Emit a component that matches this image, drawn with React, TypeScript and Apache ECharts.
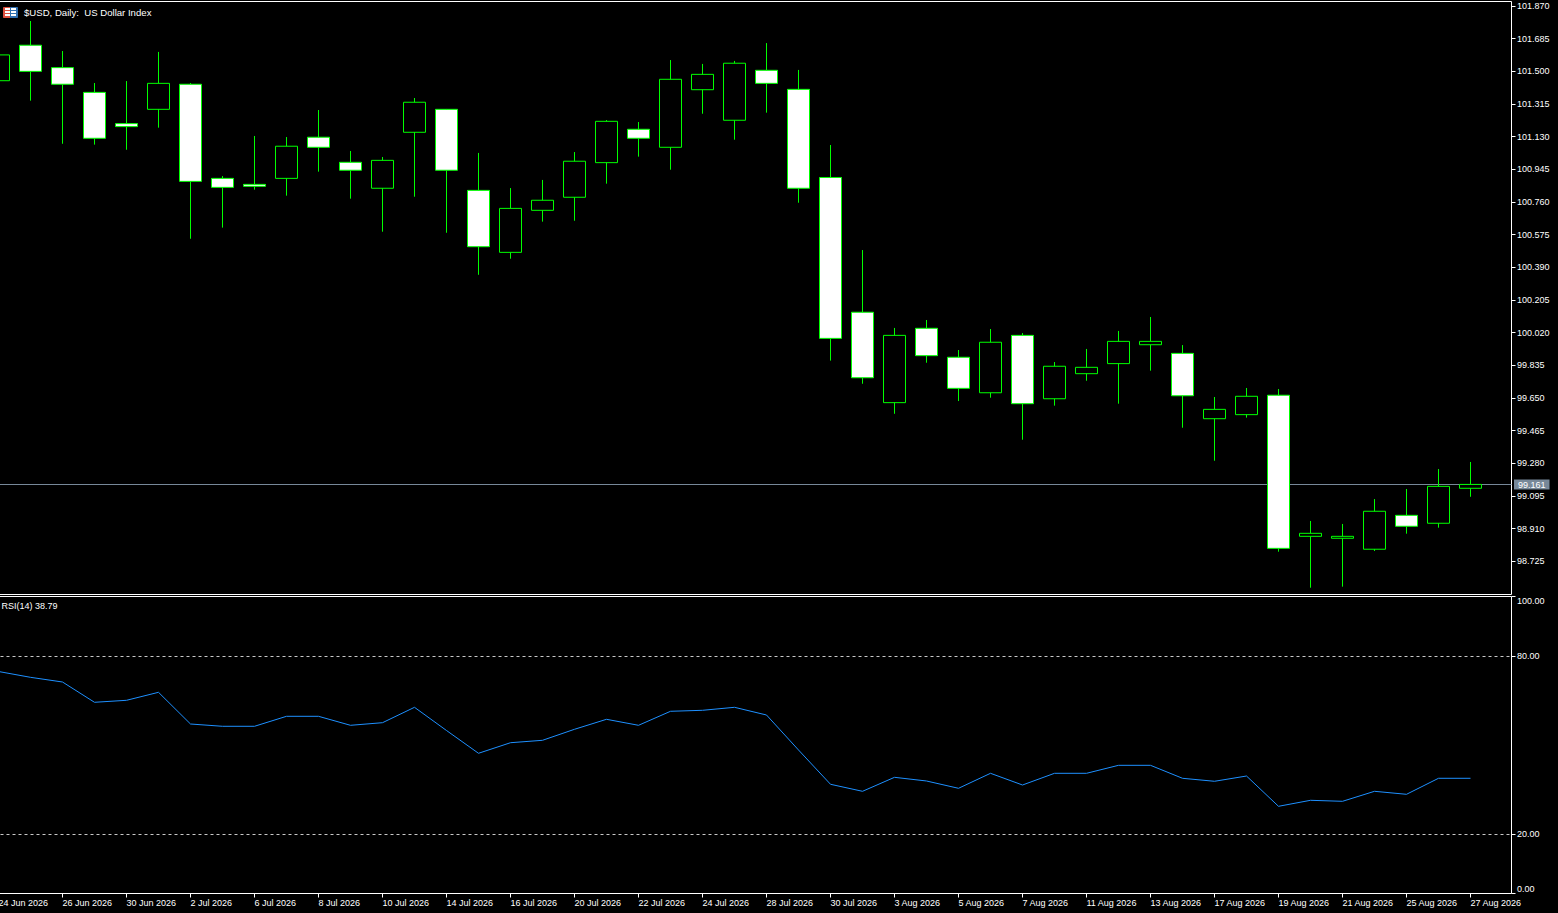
import React, { useEffect, useRef } from "react";
import * as echarts from "echarts";

const dates = [
  "24 Jun 2026","25 Jun 2026","26 Jun 2026","29 Jun 2026","30 Jun 2026",
  "1 Jul 2026","2 Jul 2026","3 Jul 2026","6 Jul 2026","7 Jul 2026","8 Jul 2026","9 Jul 2026","10 Jul 2026",
  "13 Jul 2026","14 Jul 2026","15 Jul 2026","16 Jul 2026","17 Jul 2026","20 Jul 2026","21 Jul 2026","22 Jul 2026",
  "23 Jul 2026","24 Jul 2026","27 Jul 2026","28 Jul 2026","29 Jul 2026","30 Jul 2026","31 Jul 2026",
  "3 Aug 2026","4 Aug 2026","5 Aug 2026","6 Aug 2026","7 Aug 2026","10 Aug 2026","11 Aug 2026","12 Aug 2026",
  "13 Aug 2026","14 Aug 2026","17 Aug 2026","18 Aug 2026","19 Aug 2026","20 Aug 2026","21 Aug 2026",
  "24 Aug 2026","25 Aug 2026","26 Aug 2026","27 Aug 2026",
];
const opens = [
  101.447,101.648,101.521,101.381,101.204,101.285,101.427,100.894,100.860,100.894,101.127,100.985,100.838,
  101.155,101.285,100.826,100.475,100.713,100.787,100.983,101.172,101.070,101.396,101.223,101.506,101.398,
  100.899,100.136,99.624,100.045,99.881,99.680,100.005,99.646,99.788,99.845,99.952,99.903,99.533,99.556,
  99.666,98.867,98.856,98.794,98.986,98.941,99.139,
];
const closes = [
  101.593,101.500,101.427,101.121,101.187,101.432,100.877,100.843,100.849,101.076,101.070,100.940,100.996,
  101.325,100.940,100.507,100.724,100.770,100.991,101.217,101.121,101.455,101.483,101.546,101.432,100.838,
  99.988,99.765,100.005,99.890,99.705,99.966,99.618,99.830,99.824,99.971,99.971,99.663,99.586,99.660,
  98.799,98.884,98.867,99.009,98.924,99.150,99.161,
];
const lows = [
  101.423,101.334,101.090,101.085,101.056,101.181,100.552,100.615,100.830,100.796,100.932,100.779,100.592,
  100.790,100.586,100.348,100.439,100.649,100.654,100.864,101.017,100.943,101.260,101.113,101.266,100.756,
  99.862,99.731,99.561,99.850,99.633,99.652,99.414,99.607,99.748,99.618,99.805,99.482,99.295,99.539,
  98.780,98.576,98.582,98.784,98.882,98.916,99.091,
];
const highs = [
  101.621,101.785,101.615,101.434,101.445,101.610,101.434,100.907,101.134,101.128,101.281,101.049,101.015,
  101.349,101.287,101.038,100.839,100.885,101.043,101.224,101.213,101.564,101.542,101.559,101.660,101.508,
  101.083,100.488,100.047,100.092,99.922,100.041,100.018,99.854,99.928,100.030,100.109,99.950,99.656,99.707,
  99.701,98.954,98.937,99.078,99.135,99.248,99.288,
];
const rsiValues = [
  74.75,72.79,71.21,64.38,65.05,67.74,57.07,56.30,56.30,59.66,59.66,56.63,57.51,62.69,54.88,47.21,50.77,
  51.58,55.29,58.65,56.63,61.35,61.68,62.69,60.10,48.32,36.77,34.41,39.12,37.88,35.42,40.47,36.53,40.47,
  40.47,43.16,43.16,38.79,37.78,39.56,29.36,31.38,31.04,34.41,33.40,38.79,38.79,
];
const priceTicks = [
  98.725,98.91,99.095,99.28,99.465,99.65,99.835,100.02,100.205,100.39,100.575,100.76,100.945,101.13,
  101.315,101.5,101.685,101.87,
];
const rsiTicks = [0, 20, 80, 100];
const rsiLevels = [80, 20];
const lastPrice = 99.161;
const titleText = "$USD, Daily:  US Dollar Index";
const rsiText = "RSI(14) 38.79";

const FONT = "'Liberation Sans'";
const FONT_SIZE = 9;
const TITLE_SIZE = 9.6;
const GREEN = "#00ff00";
const ICON_RED = "#dc4f3e";
const ICON_BLUE = "#2f6fb0";

export default function App() {
  const ref = useRef<HTMLDivElement>(null);
  useEffect(() => {
    const chart = echarts.init(ref.current!, undefined, { renderer: "svg" });
    const dateTicks = dates.map((_, i) => i).filter((i) => i % 2 === 0);
    const candles = dates.map((_, i) => [i, opens[i], closes[i], lows[i], highs[i]]);
    const rsiData = rsiValues.map((v, i) => [i, v]);
    const plotLeft = -17.5;
    const plotWidth = 1529;
    const xMin = -0.5;
    const xMax = xMin + plotWidth / 32;
    const gridStyle = {
      show: true, borderColor: "#ffffff", borderWidth: 1, backgroundColor: "#000000",
      outerBoundsMode: "none", containLabel: false,
    };
    const hiddenLine = { show: false, onZero: false };
    const iconStripe = (x: number, y: number) => ({
      type: "rect", shape: { x, y, width: 5, height: 2 }, style: { fill: "#ffffff" },
    });
    chart.setOption({
      animation: false,
      backgroundColor: "#000000",
      textStyle: { fontFamily: FONT },
      grid: [
        { left: plotLeft, width: plotWidth, top: 1.5, height: 593, ...gridStyle },
        { left: plotLeft, width: plotWidth, top: 596.5, height: 297, ...gridStyle },
      ],
      xAxis: [
        {
          type: "value", gridIndex: 0, min: xMin, max: xMax,
          axisLine: hiddenLine, axisTick: { show: false }, axisLabel: { show: false }, splitLine: { show: false },
        },
        {
          type: "value", gridIndex: 1, min: xMin, max: xMax,
          axisLine: hiddenLine,
          axisTick: { show: true, length: 4, lineStyle: { color: "#ffffff" }, customValues: dateTicks },
          axisLabel: {
            show: true, customValues: dateTicks, color: "#ffffff", fontFamily: FONT, fontSize: FONT_SIZE,
            align: "left", margin: 5, formatter: (v: number) => dates[v],
          },
          splitLine: { show: false },
        },
      ],
      yAxis: [
        {
          type: "value", gridIndex: 0, position: "right", min: 98.5376, max: 101.8955,
          axisLine: hiddenLine,
          axisTick: { show: true, length: 4, lineStyle: { color: "#ffffff" }, customValues: priceTicks },
          axisLabel: {
            show: true, customValues: priceTicks, color: "#ffffff", fontFamily: FONT, fontSize: FONT_SIZE,
            margin: 5.5, formatter: (v: number) => v.toFixed(3),
          },
          splitLine: { show: false },
        },
        {
          type: "value", gridIndex: 1, position: "right", min: 0, max: 100,
          axisLine: hiddenLine,
          axisTick: { show: true, length: 4, lineStyle: { color: "#ffffff" }, customValues: rsiTicks },
          axisLabel: {
            show: true, customValues: rsiTicks, color: "#ffffff", fontFamily: FONT, fontSize: FONT_SIZE,
            margin: 5.5, formatter: (v: number) => v.toFixed(2),
            verticalAlignMinLabel: "bottom", verticalAlignMaxLabel: "top",
          },
          splitLine: { show: false },
        },
      ],
      series: [
        {
          type: "candlestick", name: "$USD", xAxisIndex: 0, yAxisIndex: 0, z: 3,
          barWidth: 22, data: candles,
          encode: { x: 0, y: [1, 2, 3, 4] },
          itemStyle: { color: "#000000", color0: "#ffffff", borderColor: GREEN, borderColor0: GREEN, borderWidth: 1 },
          markLine: {
            silent: true, z: 1, symbol: ["none", "none"],
            lineStyle: { color: "#778899", width: 1, type: "solid" },
            label: {
              show: true, position: "end", distance: 2.5, formatter: () => lastPrice.toFixed(3),
              color: "#ffffff", fontFamily: FONT, fontSize: FONT_SIZE,
              backgroundColor: "#778899", padding: [1, 4, 0, 4],
            },
            data: [{ yAxis: lastPrice }],
          },
        },
        {
          type: "line", name: "RSI(14)", xAxisIndex: 1, yAxisIndex: 1, data: rsiData,
          showSymbol: false, symbol: "none",
          lineStyle: { color: "#1e90ff", width: 1 },
          markLine: {
            silent: true, symbol: ["none", "none"],
            lineStyle: { color: "#c8c8c8", width: 1, type: [3, 3] },
            label: { show: false },
            data: rsiLevels.map((v) => ({ yAxis: v })),
          },
        },
      ],
      graphic: [
        { type: "rect", shape: { x: 3.5, y: 7.5, width: 7, height: 10 }, style: { fill: ICON_RED, stroke: ICON_RED, lineWidth: 1 } },
        { type: "rect", shape: { x: 10.5, y: 7.5, width: 7, height: 10 }, style: { fill: ICON_BLUE, stroke: ICON_BLUE, lineWidth: 1 } },
        iconStripe(5, 8), iconStripe(5, 11), iconStripe(5, 14),
        iconStripe(11, 8), iconStripe(11, 11), iconStripe(11, 14),
        {
          type: "text", x: 24, y: 12.5,
          style: { text: titleText, fill: "#ffffff", font: `${TITLE_SIZE}px ${FONT}`, textVerticalAlign: "middle" },
        },
        {
          type: "text", x: 1.5, y: 605.5,
          style: { text: rsiText, fill: "#ffffff", font: `${FONT_SIZE}px ${FONT}`, textVerticalAlign: "middle" },
        },
      ],
    });
    return () => chart.dispose();
  }, []);
  return (
    <div
      ref={ref}
      style={{ position: "absolute", left: 0, top: 0, width: 1558, height: 913, background: "#000000" }}
    />
  );
}
